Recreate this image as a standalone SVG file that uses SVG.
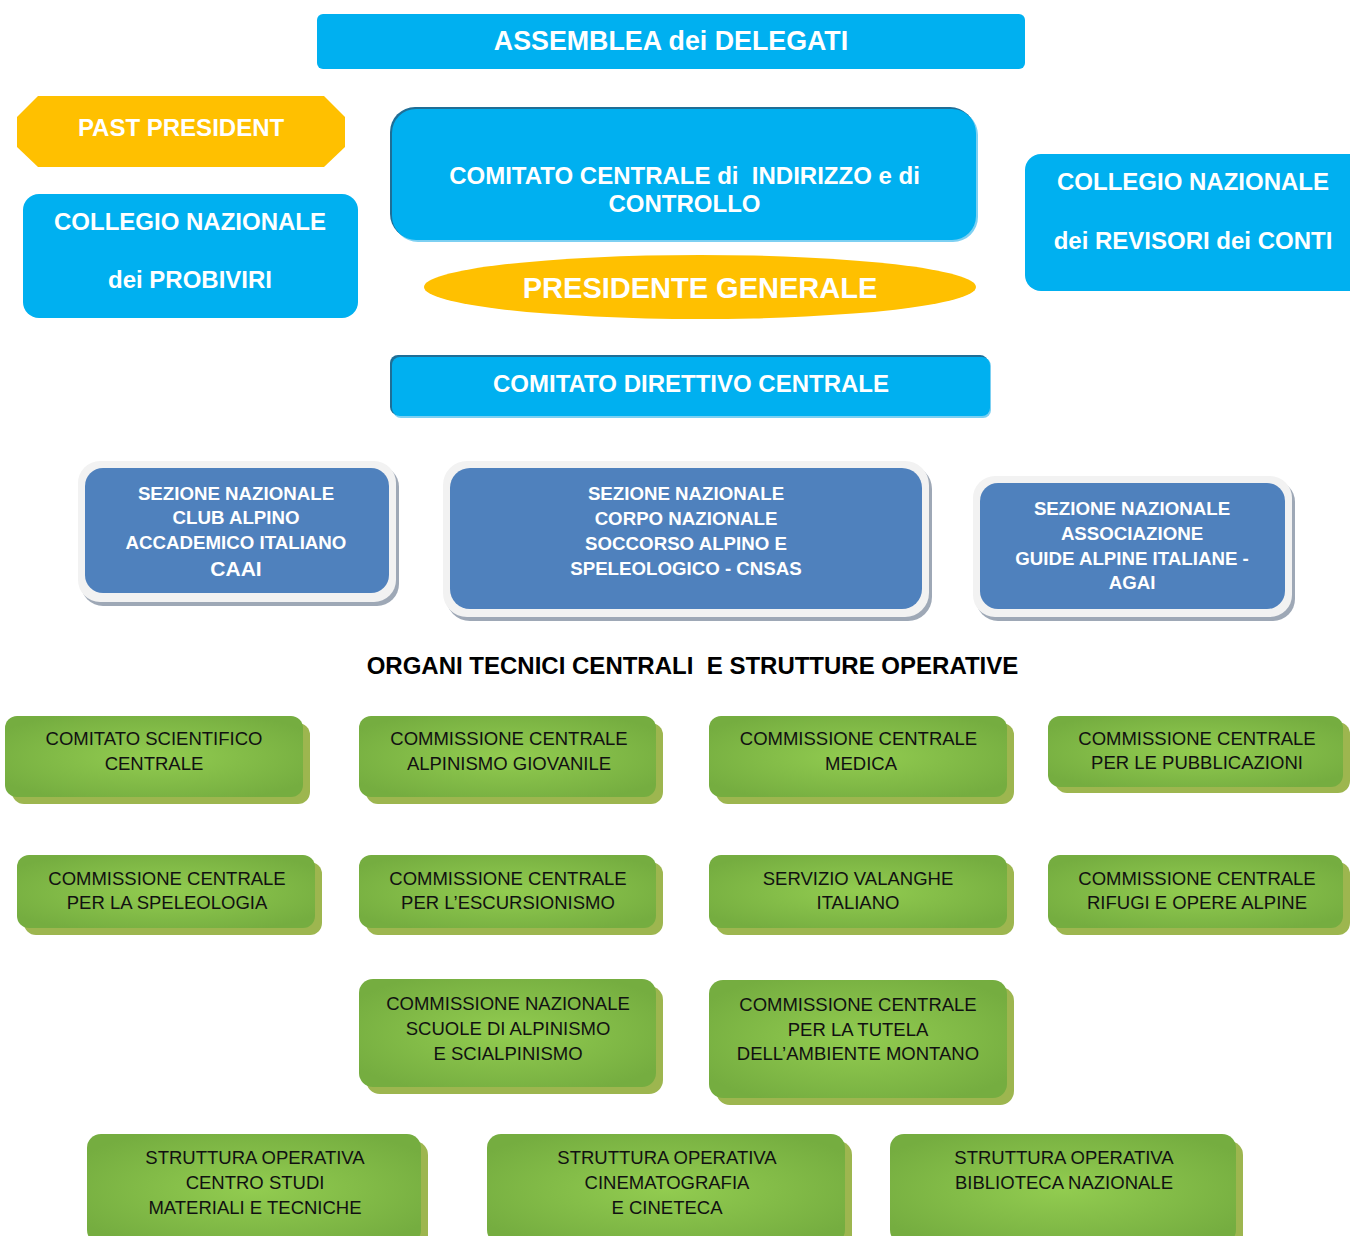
<svg xmlns="http://www.w3.org/2000/svg" width="1350" height="1236" viewBox="0 0 1350 1236">
<defs>
<radialGradient id="gg" cx="50%" cy="50%" r="60%">
<stop offset="0" stop-color="#92cc50"/>
<stop offset="1" stop-color="#75ad40"/>
</radialGradient>
<style>
text{white-space:pre}
.w{font-family:"Liberation Sans",Arial,sans-serif;font-weight:bold;fill:#fff;text-anchor:middle}
.g{font-family:"Liberation Sans",Arial,sans-serif;font-size:18.5px;fill:#111;text-anchor:middle}
.cy{fill:#00b0f0}
.dk{fill:#1f6e96}
.lt{fill:#7dd0f2}
.sb{fill:#4f81bd}
.so{fill:#f2f2f2}
.ss{fill:#9ea8b6}
.gs{fill:#9db64f}
.gm{fill:url(#gg)}
.ye{fill:#ffc000}
.h{font-family:"Liberation Sans",Arial,sans-serif;font-weight:bold;font-size:24px;fill:#000;text-anchor:middle}
</style>
</defs>
<rect width="1350" height="1236" fill="#fff"/>
<g id="connectors"></g>

<g id="assemblea">
<rect class="cy" x="317" y="14" width="708" height="55" rx="6"/>
<text class="w" x="671" y="50" font-size="26.8">ASSEMBLEA dei DELEGATI</text>
</g>

<g id="past-president">
<polygon class="ye" points="38,96 324,96 345,117 345,147 324,167 38,167 17,147 17,117"/>
<text class="w" x="181" y="135.5" font-size="24">PAST PRESIDENT</text>
</g>

<g id="probiviri">
<rect class="cy" x="23" y="194" width="335" height="124" rx="16"/>
<text class="w" x="190" y="229.5" font-size="24">COLLEGIO NAZIONALE</text>
<text class="w" x="190" y="287.5" font-size="24">dei PROBIVIRI</text>
</g>

<g id="comitato-indirizzo">
<rect class="lt" x="393" y="110" width="585" height="132" rx="25"/>
<rect class="dk" x="390" y="107" width="585" height="132" rx="25"/>
<rect class="cy" x="392" y="109" width="584" height="131" rx="24"/>
<text class="w" x="684.5" y="183.5" font-size="24">COMITATO CENTRALE di  INDIRIZZO e di</text>
<text class="w" x="684.5" y="211.5" font-size="24">CONTROLLO</text>
</g>

<g id="presidente-generale">
<ellipse class="ye" cx="700" cy="287" rx="276" ry="32"/>
<text class="w" x="700" y="298" font-size="29">PRESIDENTE GENERALE</text>
</g>

<g id="revisori">
<rect class="cy" x="1025" y="154" width="340" height="137" rx="16"/>
<text class="w" x="1193" y="189.5" font-size="24">COLLEGIO NAZIONALE</text>
<text class="w" x="1193" y="248.5" font-size="24">dei REVISORI dei CONTI</text>
</g>

<g id="comitato-direttivo">
<rect class="lt" x="393" y="358" width="598" height="60" rx="8"/>
<rect class="dk" x="390" y="355" width="598" height="60" rx="8"/>
<rect class="cy" x="392" y="357" width="598" height="59" rx="8"/>
<text class="w" x="691" y="391.5" font-size="24">COMITATO DIRETTIVO CENTRALE</text>
</g>

<g id="caai">
<rect class="ss" x="81" y="465" width="318" height="141" rx="22"/>
<rect class="so" x="78" y="461" width="318" height="141" rx="22"/>
<rect class="sb" x="85" y="468" width="304" height="125" rx="18"/>
<text class="w" x="236" y="499.5" font-size="18.7">SEZIONE NAZIONALE</text>
<text class="w" x="236" y="523.5" font-size="18.7">CLUB ALPINO</text>
<text class="w" x="236" y="548.5" font-size="18.7">ACCADEMICO ITALIANO</text>
<text class="w" x="236" y="575.5" font-size="21">CAAI</text>
</g>

<g id="cnsas">
<rect class="ss" x="446" y="465" width="486" height="156" rx="24"/>
<rect class="so" x="443" y="461" width="486" height="156" rx="24"/>
<rect class="sb" x="450" y="468" width="472" height="141" rx="20"/>
<text class="w" x="686" y="499.5" font-size="18.7">SEZIONE NAZIONALE</text>
<text class="w" x="686" y="524.5" font-size="18.7">CORPO NAZIONALE</text>
<text class="w" x="686" y="549.5" font-size="18.7">SOCCORSO ALPINO E</text>
<text class="w" x="686" y="574.5" font-size="18.7">SPELEOLOGICO - CNSAS</text>
</g>

<g id="agai">
<rect class="ss" x="976" y="480" width="319" height="141" rx="22"/>
<rect class="so" x="973" y="476" width="319" height="141" rx="22"/>
<rect class="sb" x="980" y="483" width="305" height="126" rx="18"/>
<text class="w" x="1132" y="514.5" font-size="18.7">SEZIONE NAZIONALE</text>
<text class="w" x="1132" y="539.5" font-size="18.7">ASSOCIAZIONE</text>
<text class="w" x="1132" y="564.5" font-size="18.7">GUIDE ALPINE ITALIANE -</text>
<text class="w" x="1132" y="588.5" font-size="18.7">AGAI</text>
</g>

<g id="heading">
<text class="h" x="692.5" y="673.5">ORGANI TECNICI CENTRALI  E STRUTTURE OPERATIVE</text>
</g>

<g id="comitato-scientifico">
<rect class="gs" x="12" y="723" width="298" height="81" rx="12"/>
<rect class="gm" x="5" y="716" width="298" height="81" rx="12"/>
<text class="g" x="154" y="745">COMITATO SCIENTIFICO</text>
<text class="g" x="154" y="770">CENTRALE</text>
</g>

<g id="alpinismo-giovanile">
<rect class="gs" x="366" y="723" width="297" height="81" rx="12"/>
<rect class="gm" x="359" y="716" width="297" height="81" rx="12"/>
<text class="g" x="509" y="745">COMMISSIONE CENTRALE</text>
<text class="g" x="509" y="770">ALPINISMO GIOVANILE</text>
</g>

<g id="medica">
<rect class="gs" x="716" y="723" width="298" height="81" rx="12"/>
<rect class="gm" x="709" y="716" width="298" height="81" rx="12"/>
<text class="g" x="858.5" y="745">COMMISSIONE CENTRALE</text>
<text class="g" x="861" y="770">MEDICA</text>
</g>

<g id="pubblicazioni">
<rect class="gs" x="1055" y="722" width="295" height="71" rx="12"/>
<rect class="gm" x="1048" y="716" width="295" height="71" rx="12"/>
<text class="g" x="1197" y="745">COMMISSIONE CENTRALE</text>
<text class="g" x="1197" y="769">PER LE PUBBLICAZIONI</text>
</g>

<g id="speleologia">
<rect class="gs" x="24" y="862" width="298" height="73" rx="12"/>
<rect class="gm" x="17" y="855" width="298" height="73" rx="12"/>
<text class="g" x="167" y="885">COMMISSIONE CENTRALE</text>
<text class="g" x="167" y="909">PER LA SPELEOLOGIA</text>
</g>

<g id="escursionismo">
<rect class="gs" x="366" y="862" width="297" height="73" rx="12"/>
<rect class="gm" x="359" y="855" width="297" height="73" rx="12"/>
<text class="g" x="508" y="885">COMMISSIONE CENTRALE</text>
<text class="g" x="508" y="909">PER L’ESCURSIONISMO</text>
</g>

<g id="valanghe">
<rect class="gs" x="716" y="862" width="298" height="73" rx="12"/>
<rect class="gm" x="709" y="855" width="298" height="73" rx="12"/>
<text class="g" x="858" y="885">SERVIZIO VALANGHE</text>
<text class="g" x="858" y="909">ITALIANO</text>
</g>

<g id="rifugi">
<rect class="gs" x="1055" y="862" width="295" height="73" rx="12"/>
<rect class="gm" x="1048" y="855" width="295" height="73" rx="12"/>
<text class="g" x="1197" y="885">COMMISSIONE CENTRALE</text>
<text class="g" x="1197" y="909">RIFUGI E OPERE ALPINE</text>
</g>

<g id="scuole">
<rect class="gs" x="366" y="986" width="297" height="108" rx="14"/>
<rect class="gm" x="359" y="979" width="297" height="108" rx="14"/>
<text class="g" x="508" y="1010">COMMISSIONE NAZIONALE</text>
<text class="g" x="508" y="1035">SCUOLE DI ALPINISMO</text>
<text class="g" x="508" y="1060">E SCIALPINISMO</text>
</g>

<g id="tutela">
<rect class="gs" x="716" y="987" width="298" height="118" rx="14"/>
<rect class="gm" x="709" y="980" width="298" height="118" rx="14"/>
<text class="g" x="858" y="1011">COMMISSIONE CENTRALE</text>
<text class="g" x="858" y="1036">PER LA TUTELA</text>
<text class="g" x="858" y="1060">DELL’AMBIENTE MONTANO</text>
</g>

<g id="centro-studi">
<rect class="gs" x="94" y="1141" width="334" height="110" rx="14"/>
<rect class="gm" x="87" y="1134" width="334" height="110" rx="14"/>
<text class="g" x="255" y="1164">STRUTTURA OPERATIVA</text>
<text class="g" x="255" y="1189">CENTRO STUDI</text>
<text class="g" x="255" y="1214">MATERIALI E TECNICHE</text>
</g>

<g id="cinematografia">
<rect class="gs" x="494" y="1141" width="358" height="110" rx="14"/>
<rect class="gm" x="487" y="1134" width="358" height="110" rx="14"/>
<text class="g" x="667" y="1164">STRUTTURA OPERATIVA</text>
<text class="g" x="667" y="1189">CINEMATOGRAFIA</text>
<text class="g" x="667" y="1214">E CINETECA</text>
</g>

<g id="biblioteca">
<rect class="gs" x="897" y="1141" width="346" height="110" rx="14"/>
<rect class="gm" x="890" y="1134" width="346" height="110" rx="14"/>
<text class="g" x="1064" y="1164">STRUTTURA OPERATIVA</text>
<text class="g" x="1064" y="1189">BIBLIOTECA NAZIONALE</text>
</g>
</svg>
